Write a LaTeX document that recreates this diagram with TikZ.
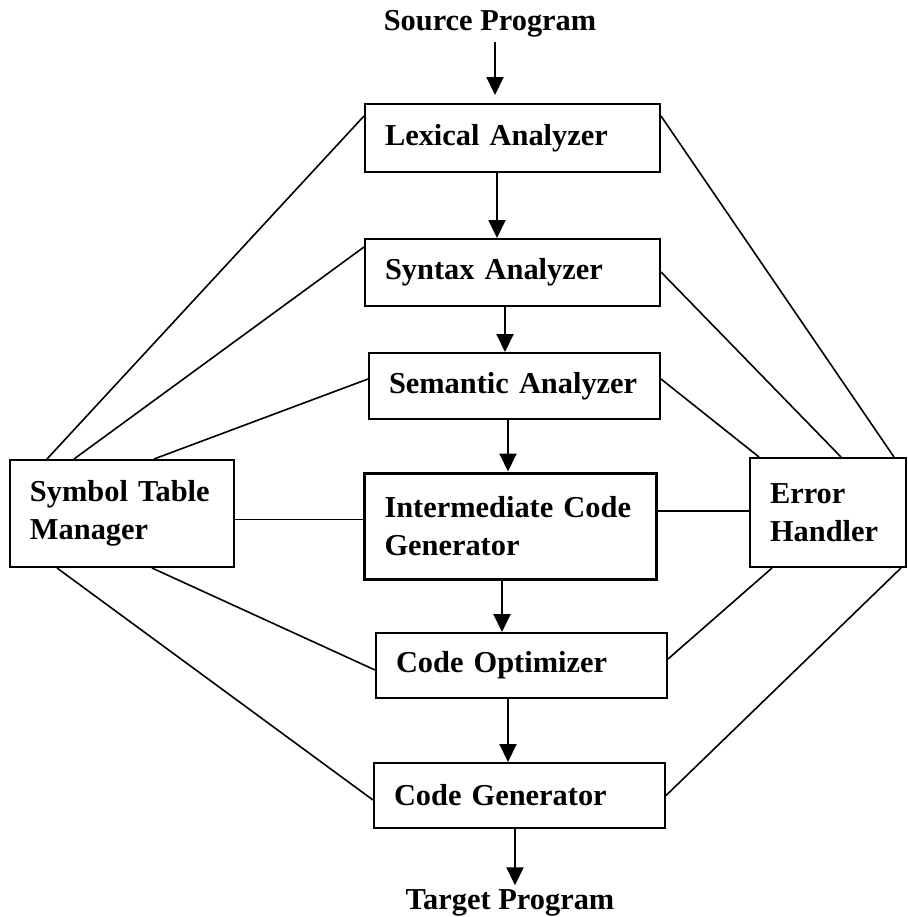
\documentclass[tikz,border=0pt]{standalone}
\usepackage{fontspec}
\setmainfont{Liberation Serif}
\usetikzlibrary{arrows.meta,positioning,calc}
\tikzset{
    phase/.style={rectangle, draw, line width=1pt, align=left, inner xsep=10pt, inner ysep=0pt, font=\bfseries\fontsize{15.2}{19}\selectfont},
    ioname/.style={inner sep=2pt, font=\bfseries\fontsize{15.2}{19}\selectfont},
    link/.style={draw, line width=0.8pt},
    flow/.style={draw, line width=1pt, -{Triangle[length=9pt,width=8.5pt]}}
}
\begin{document}
\begin{tikzpicture}[x=0.5pt, y=-0.5pt]
    \useasboundingbox (0,0) rectangle (907,917);

    % Input and output
    \node [ioname] (src) at (490,24) {Source Program};
    \node [ioname] (tgt) at (510,903) {Target Program};

    % Compiler phases
    \node [phase, text width=127.5pt, minimum height=34pt] (lex) at (512.5,138) {Lexical Analyzer};
    \node [phase, text width=127.5pt, minimum height=33.5pt] (syn) at (512.5,272.5) {Syntax Analyzer};
    \node [phase, text width=125.5pt, minimum height=33pt] (sem) at (514.5,386) {Semantic Analyzer};
    \node [phase, text width=126pt, minimum height=53pt, line width=1.5pt] (icg) at (510.5,526) {Intermediate Code\\Generator};
    \node [phase, text width=125.5pt, minimum height=32.5pt] (opt) at (521.5,665.5) {Code Optimizer};
    \node [phase, text width=125.5pt, minimum height=32.5pt] (gen) at (519.5,795.5) {Code Generator};

    % Side boxes
    \node [phase, text width=92pt, minimum height=53.5pt] (sym) at (122,513.5) {Symbol Table\\Manager};
    \node [phase, text width=58pt, minimum height=54.5pt] (err) at (828,512.5) {Error\\Handler};

    % Main flow
    \draw [flow, shorten >=4pt] ([xshift=2.5pt]src.south) -- ([xshift=2.5pt]src.south |- lex.north);
    \draw [flow] ([xshift=-7.75pt]lex.south) -- ([xshift=-7.75pt]lex.south |- syn.north);
    \draw [flow] ([xshift=-3.75pt]syn.south) -- ([xshift=-3.75pt]syn.south |- sem.north);
    \draw [flow] ([xshift=-3.25pt]sem.south) -- ([xshift=-3.25pt]sem.south |- icg.north);
    \draw [flow] ([xshift=-4.25pt]icg.south) -- ([xshift=-4.25pt]icg.south |- opt.north);
    \draw [flow] ([xshift=-6.75pt]opt.south) -- ([xshift=-6.75pt]opt.south |- gen.north);
    \draw [flow] ([xshift=-2.25pt]gen.south) -- ([xshift=-2.25pt]gen.south |- tgt.north);

    % Symbol table links
    \draw [link] ([xshift=19pt]sym.north west) -- ([yshift=-6.5pt]lex.north west);
    \draw [link] ([xshift=32.5pt]sym.north west) -- ([yshift=-4.5pt]syn.north west);
    \draw [link] ([xshift=72.5pt]sym.north west) -- ([yshift=-13.5pt]sem.north west);
    \draw [link] ([yshift=-3pt]sym.east) -- ([yshift=-3pt]sym.east -| icg.west);
    \draw [link] ([xshift=71.5pt]sym.south west) -- ([yshift=-2.25pt]opt.west);
    \draw [link] ([xshift=24pt]sym.south west) -- ([yshift=-2.25pt]gen.west);

    % Error handler links
    \draw [link] ([yshift=-6.5pt]lex.north east) -- ([xshift=-6.5pt]err.north east);
    \draw [link] ([yshift=-17pt]syn.north east) -- ([xshift=-33pt]err.north east);
    \draw [link] ([yshift=-13.5pt]sem.north east) -- ([xshift=5pt]err.north west);
    \draw [link] ([yshift=7.5pt]icg.east) -- ([yshift=7.5pt]icg.east -| err.west);
    \draw [link] ([yshift=-13.5pt]opt.north east) -- ([xshift=11.5pt]err.south west);
    \draw [link] (gen.east) -- ([xshift=-3pt]err.south east);
\end{tikzpicture}
\end{document}
